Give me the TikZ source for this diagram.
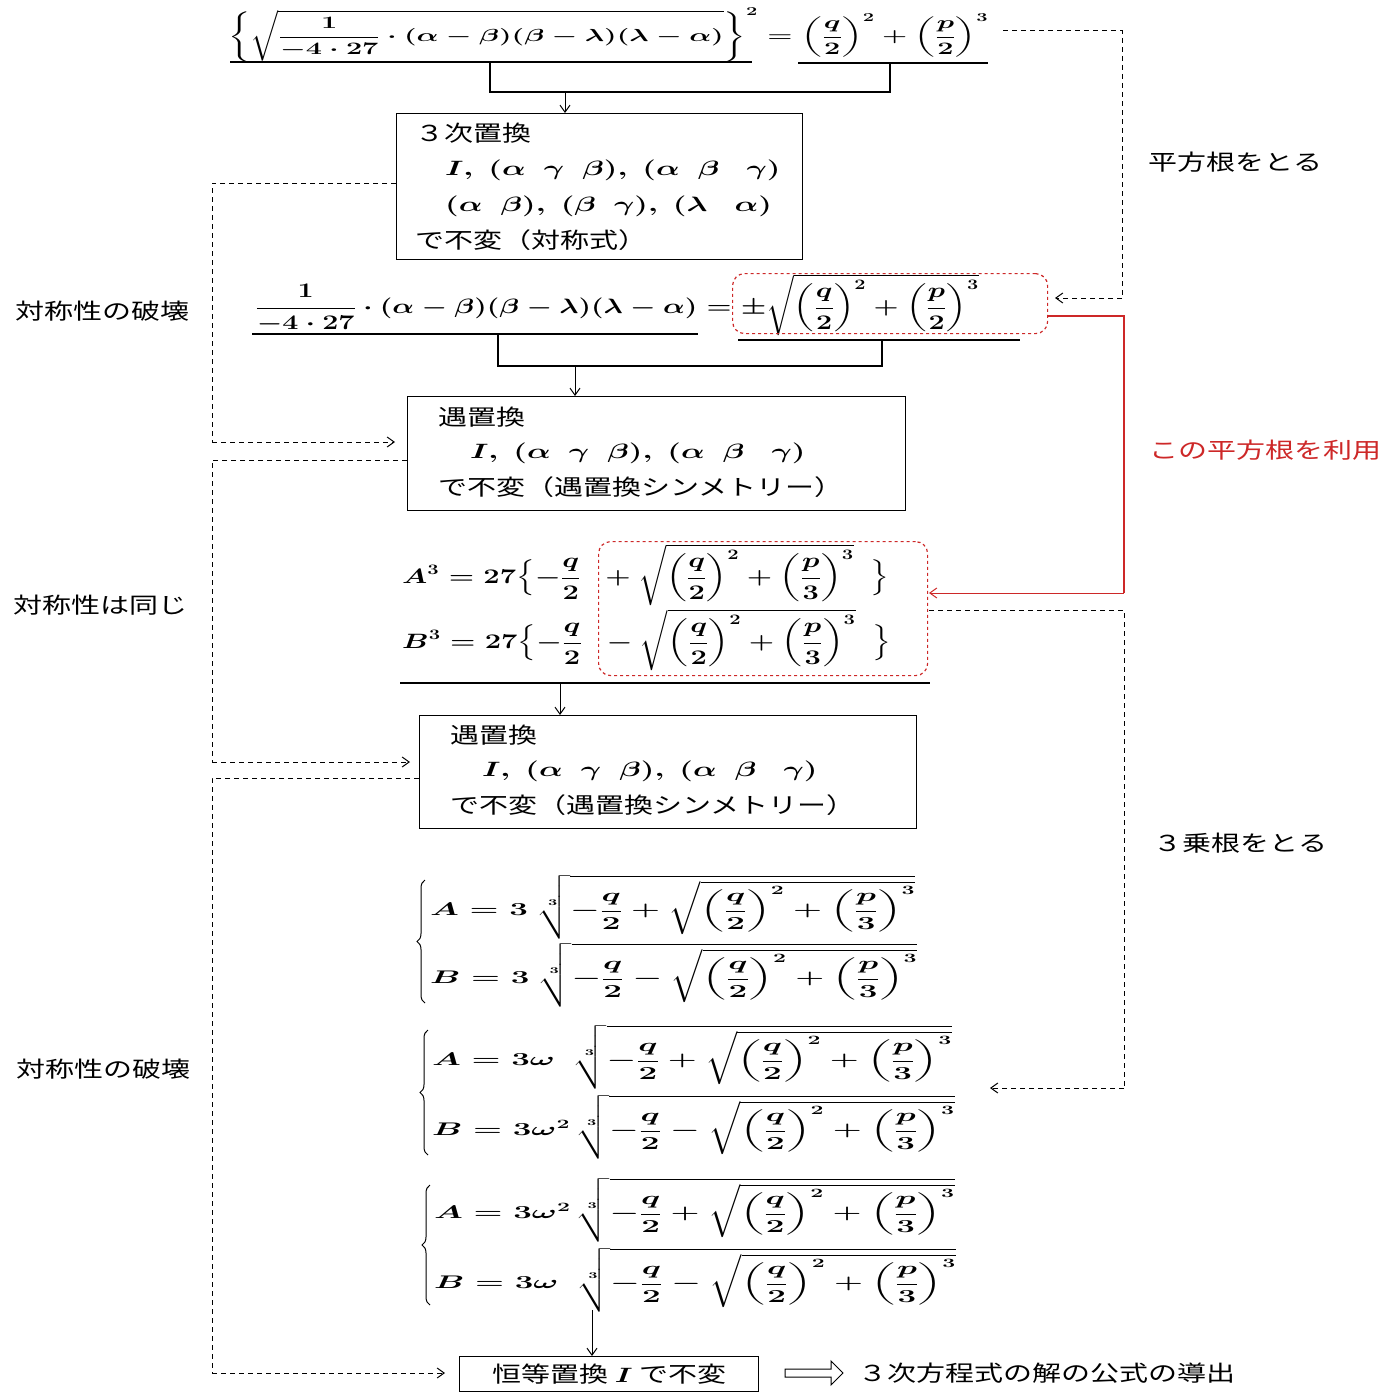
\documentclass[tikz,border=0pt]{standalone}
\usepackage{amsmath,amssymb,graphicx}
\usepackage{fontspec}
\newfontfamily\jp{Noto Sans CJK JP}
\usetikzlibrary{arrows.meta,shapes.arrows,decorations.pathreplacing}
\definecolor{rd}{RGB}{205,40,40}
\newcommand{\J}[1]{\scalebox{1.45}[1.1]{\jp #1}}
\newcommand{\M}[2][1.45]{\scalebox{#1}[1]{$#2$}}
\newcommand{\G}[1]{\scalebox{1.6}[0.88]{$#1$}}
\begin{document}
\begin{tikzpicture}[x=1pt,y=-1pt,font=\fontsize{20}{24}\selectfont\boldmath,
 box/.style={draw,line width=1.3pt,anchor=north west,inner sep=0},
 tx/.style={anchor=west,inner sep=0},
 dsh/.style={dashed,line width=1pt,dash pattern=on 5pt off 4pt},
 arr/.style={-{Straight Barb[length=7pt,width=10pt]},line width=1pt},
 ln/.style={line width=1.2pt},
 brc/.style={decorate,decoration={brace,amplitude=8pt},line width=1pt},
 rbox/.style={draw=rd,dashed,line width=1.2pt,rounded corners=12pt,anchor=north west,inner sep=0}]
\useasboundingbox (0,0) rectangle (1397,1397);
% top equation
\node[tx] (e1) at (228,35) {\scalebox{1.39}[0.84]{$\left\{\sqrt{\dfrac{1}{-4\cdot27}\cdot(\alpha-\beta)(\beta-\lambda)(\lambda-\alpha)}\right\}^2=\left(\dfrac{q}{2}\right)^2+\left(\dfrac{p}{2}\right)^3$}};
\draw[ln] (230,62) -- (752,62); \draw[ln] (798,63) -- (988,63);
\coordinate (t1) at (490,62); \coordinate (t2) at (890,63); \coordinate (tm) at (565,92);
\draw[ln] (t1) -- (490,92) -- (890,92) -- (t2);
\node[box,minimum width=406pt,minimum height=146pt] (b1) at (396,113) {};
\draw[arr] (tm) -- (b1.north -| tm);
\node[tx] at (415,133) {\J{３次置換}};
\node[tx] at (445,170) {\M[1.5]{I,\ (\alpha\ \ \gamma\ \ \beta),\ (\alpha\ \ \beta\ \ \ \gamma)}};
\node[tx] at (445,206) {\M[1.5]{(\alpha\ \ \beta),\ (\beta\ \ \gamma),\ (\lambda\ \ \ \alpha)}};
\node[tx] at (415,240) {\J{で不変（対称式）}};
% second equation
\node[tx] (e2) at (255,305) {\M[1.38]{\dfrac{1}{-4\cdot27}\cdot(\alpha-\beta)(\beta-\lambda)(\lambda-\alpha)=\pm\sqrt{\left(\dfrac{q}{2}\right)^2+\left(\dfrac{p}{2}\right)^3}}};
\node[rbox,minimum width=315pt,minimum height=60pt] (r1) at (732,273) {};
\draw[ln] (252,334) -- (698,334); \draw[ln] (738,340) -- (1020,340);
\coordinate (s1) at (498,334); \coordinate (s2) at (882,340); \coordinate (sm) at (575,366);
\draw[ln] (s1) -- (498,366) -- (882,366) -- (s2);
\node[box,minimum width=498pt,minimum height=114pt] (b2) at (407,396) {};
\draw[arr] (sm) -- (b2.north -| sm);
\node[tx] at (438,417) {\J{遇置換}};
\node[tx] at (470,453) {\M[1.5]{I,\ (\alpha\ \ \gamma\ \ \beta),\ (\alpha\ \ \beta\ \ \ \gamma)}};
\node[tx] at (438,487) {\J{で不変（遇置換シンメトリー）}};
% A^3 B^3
\node[tx] (a3) at (402,575) {\M[1.4]{\boldsymbol{A}^3=27\Bigl\{-\dfrac{q}{2}\ \ +\sqrt{\left(\dfrac{q}{2}\right)^2+\left(\dfrac{p}{3}\right)^3}\ \ \Bigr\}}};
\node[tx] (b3) at (402,640) {\M[1.4]{\boldsymbol{B}^3=27\Bigl\{-\dfrac{q}{2}\ \ -\sqrt{\left(\dfrac{q}{2}\right)^2+\left(\dfrac{p}{3}\right)^3}\ \ \Bigr\}}};
\node[rbox,minimum width=329pt,minimum height=134pt] (r2) at (598,541) {};
\draw[ln] (400,683) -- (930,683);
\coordinate (um) at (560,683);
\node[box,minimum width=497pt,minimum height=113pt] (b3x) at (419,715) {};
\draw[arr] (um) -- (b3x.north -| um);
\node[tx] at (450,735) {\J{遇置換}};
\node[tx] at (482,771) {\M[1.5]{I,\ (\alpha\ \ \gamma\ \ \beta),\ (\alpha\ \ \beta\ \ \ \gamma)}};
\node[tx] at (450,805) {\J{で不変（遇置換シンメトリー）}};
% solution groups
\draw[brc] (425,1003) -- (425,880);
\node[tx] (g1a) at (430,907) {\G{\boldsymbol{A}=3\ \sqrt[3]{-\dfrac{q}{2}+\sqrt{\left(\dfrac{q}{2}\right)^2+\left(\dfrac{p}{3}\right)^3}}}};
\node[tx] (g1b) at (430,975) {\G{\boldsymbol{B}=3\ \sqrt[3]{-\dfrac{q}{2}-\sqrt{\left(\dfrac{q}{2}\right)^2+\left(\dfrac{p}{3}\right)^3}}}};
\draw[brc] (428,1155) -- (428,1030);
\node[tx] (g2a) at (432,1057) {\G{\boldsymbol{A}=3\omega\ \ \sqrt[3]{-\dfrac{q}{2}+\sqrt{\left(\dfrac{q}{2}\right)^2+\left(\dfrac{p}{3}\right)^3}}}};
\node[tx] (g2b) at (432,1127) {\G{\boldsymbol{B}=3\omega^2\,\sqrt[3]{-\dfrac{q}{2}-\sqrt{\left(\dfrac{q}{2}\right)^2+\left(\dfrac{p}{3}\right)^3}}}};
\draw[brc] (430,1305) -- (430,1185);
\node[tx] (g3a) at (434,1210) {\G{\boldsymbol{A}=3\omega^2\,\sqrt[3]{-\dfrac{q}{2}+\sqrt{\left(\dfrac{q}{2}\right)^2+\left(\dfrac{p}{3}\right)^3}}}};
\node[tx] (g3b) at (434,1280) {\G{\boldsymbol{B}=3\omega\ \ \sqrt[3]{-\dfrac{q}{2}-\sqrt{\left(\dfrac{q}{2}\right)^2+\left(\dfrac{p}{3}\right)^3}}}};
\coordinate (vm) at (592,1310);
\node[box,minimum width=299pt,minimum height=35pt,anchor=north west] (b4) at (459,1356) {};
\node at (b4.center) {\J{恒等置換 }\M{\boldsymbol{I}}\J{ で不変}};
\draw[arr] (vm) -- (b4.north -| vm);
\node[single arrow,draw,line width=1pt,minimum height=58pt,minimum width=24pt,single arrow head extend=5pt,inner sep=2pt] (da) at (812,1373) {};
\node[tx] (res) at (858,1373) {\J{３次方程式の解の公式の導出}};
% left dashed
\draw[dsh] (b1.west |- 0,183) -- (212,183) -- (212,442);
\draw[dsh,arr] (212,442) -- (395,442);
\draw[dsh] (b2.west |- 0,460) -- (212,460) -- (212,762);
\draw[dsh,arr] (212,762) -- (410,762);
\draw[dsh] (b3x.west |- 0,778) -- (212,778) -- (212,1373);
\draw[dsh,arr] (212,1373) -- (445,1373);
\node (l1) at (102,311) {\J{対称性の破壊}};
\node (l2) at (100,605) {\J{対称性は同じ}};
\node (l3) at (103,1069) {\J{対称性の破壊}};
% right
\draw[dsh] (1003,31) -- (1122,31) -- (1122,298);
\draw[dsh,arr] (1122,298) -- (1055,298);
\node (l4) at (1235,162) {\J{平方根をとる}};
\draw[rd,line width=1.2pt] (r1.east |- 0,316) -- (1124,316) -- (1124,593);
\draw[rd,arr] (1124,593) -- (929,593);
\node (l5) at (1265,450) {\color{rd}\J{この平方根を利用}};
\draw[dsh] (929,610) -- (1124,610) -- (1124,1088);
\draw[dsh,arr] (1124,1088) -- (990,1088);
\node (l6) at (1240,843) {\J{３乗根をとる}};
\end{tikzpicture}
\end{document}
